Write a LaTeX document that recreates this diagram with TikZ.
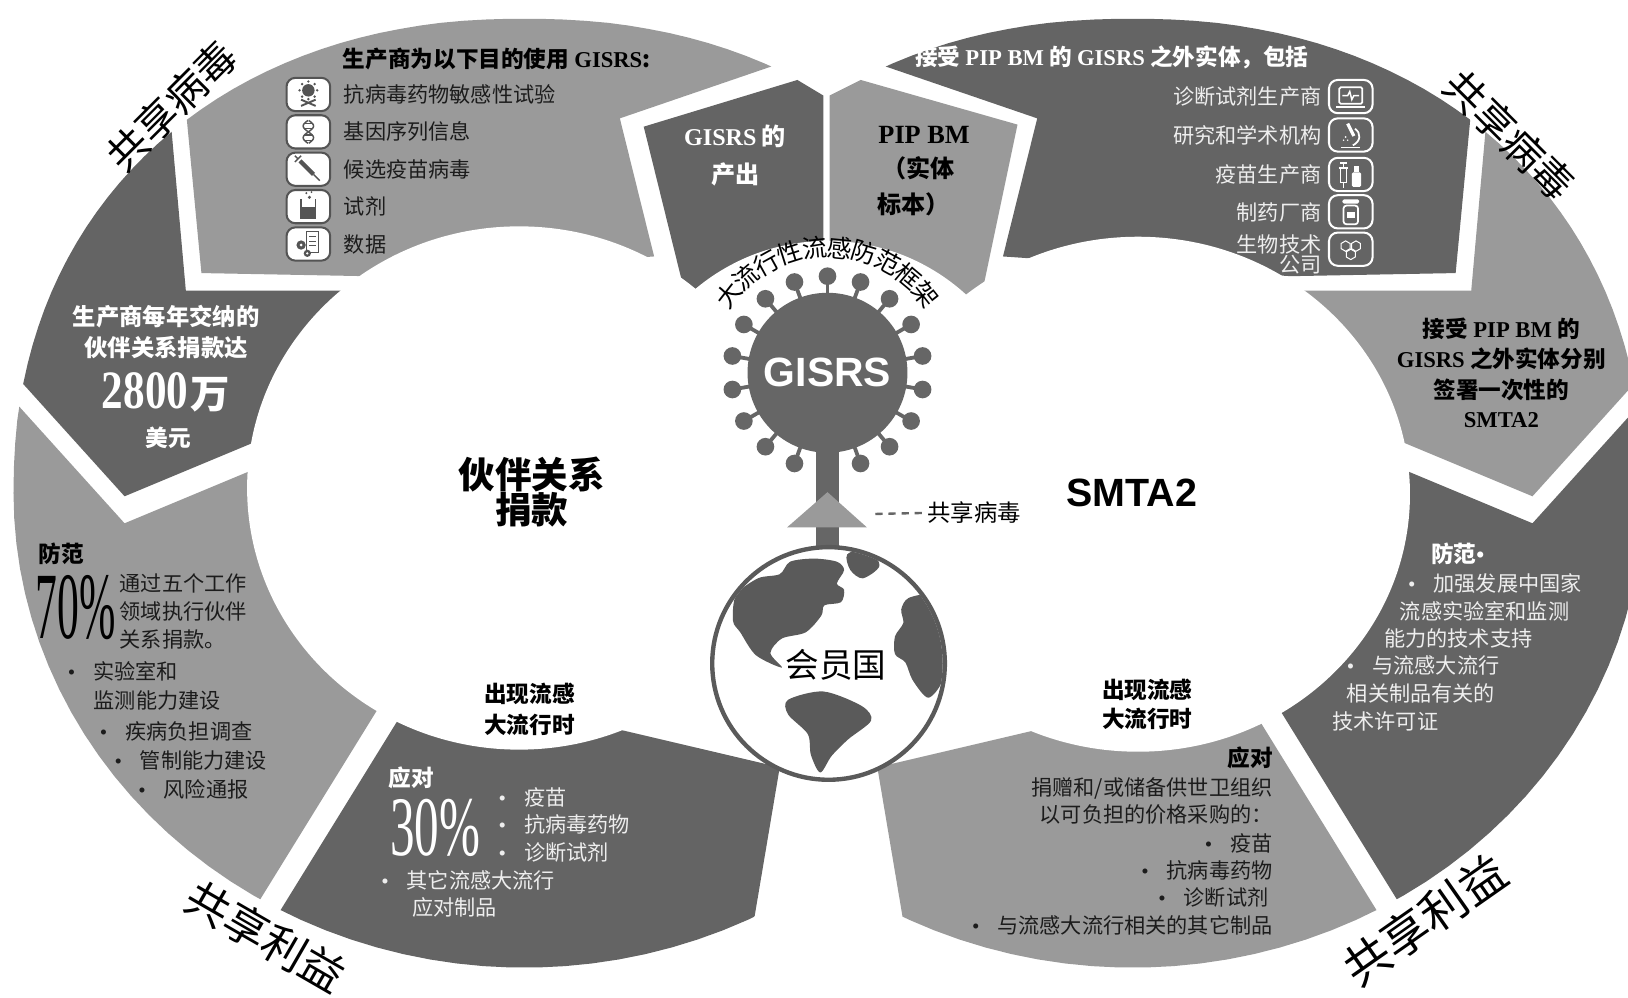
\documentclass[tikz,border=0pt]{standalone}
\usepackage{fontspec}
\usepackage{graphicx}
\setmainfont{Noto Sans CJK SC}
\newfontfamily\tms{Liberation Serif}
\newfontfamily\arl{Liberation Sans}
\usetikzlibrary{calc}

\definecolor{segLight}{HTML}{9A9A9A}
\definecolor{segDark}{HTML}{646464}
\definecolor{virusGrey}{HTML}{666666}
\definecolor{globeGrey}{HTML}{5A5A5A}
\definecolor{paleInk}{HTML}{EEEEEE}
\definecolor{darkInk}{HTML}{1C1C1C}
\definecolor{iconGrey}{HTML}{545454}

\newcommand\fs[1]{\fontsize{#1}{#1}\selectfont}
\newcommand\bul{\makebox[1.2em][l]{\tms •}}

\tikzset{
    plan/.style     = {x=0.025cm, y=-0.025cm},
    txt/.style      = {inner sep=0pt, font=\fs{14.5}, text height=12.8pt, text depth=1.7pt},
    head/.style     = {inner sep=0pt, font=\fs{15.5}\bfseries, text height=13.7pt, text depth=1.8pt},
    big/.style      = {inner sep=0pt, font=\fs{25}\bfseries, text height=22.1pt, text depth=2.9pt},
    motto/.style    = {inner sep=0pt, font=\fs{28}},
    onDark/.style   = {text=paleInk},
    onLight/.style  = {text=darkInk},
    iconbox/.style  = {draw=iconGrey, fill=white, line width=1.4pt,
                       rounded corners=6pt, minimum width=1.05cm,
                       minimum height=0.8cm, inner sep=0pt},
    darkicon/.style = {iconbox, draw=white, fill=segDark},
    virus/.style    = {circle, fill=virusGrey, text=white, inner sep=0pt,
                       minimum size=3.85cm, font=\arl\bfseries\fs{28}},
    globe/.style    = {circle, draw=globeGrey, line width=3pt, fill=white,
                       inner sep=0pt, minimum size=5.6cm}
}

% one lobe of the figure eight (left side); the right lobe is its mirror image,
% its rim is a little flatter over the top than underneath
\newcommand\lobe[4]{%
  \begin{scope}
    \clip plot[domain=0.5:179.5, samples=80]
            ({505+492*sign(cos(\x))*abs(cos(\x))^0.92}, {475-457*abs(sin(\x))^0.92})
        -- plot[domain=180:360, samples=60] ({505+492*cos(\x)}, {475-457*sin(\x)})
        -- cycle;
    \fill[#1] (169,0) -- (930,0) -- (597,114) -- (630,247) -- (353,266) -- (194,263) -- cycle;
    \fill[#2] (154,0) -- (179,280) -- (340,280) -- (300,403) -- (120,478) -- (-10,334) -- (-10,0) -- cycle;
    \fill[#3] (-10,360) -- (120,504) -- (300,429) -- (420,592) -- (168,1000) -- (-10,1000) -- cycle;
    \fill[#4] (420,634) -- (500,680) -- (751,739) -- (707,1000) -- (194,1000) -- cycle;
  \end{scope}}

\begin{document}
\begin{tikzpicture}[plan]
\useasboundingbox (0,0) rectangle (1568,961);

% ring segments
\lobe{segLight}{segDark}{segLight}{segDark}
\begin{scope}[shift={(1596,0)}, xscale=-1]
    \lobe{segDark}{segLight}{segDark}{segLight}
\end{scope}
\fill[segDark] (620,122) -- (768,77) -- (793,92) -- (793,330) -- (664,300) -- cycle;
\fill[segLight] (799,92) -- (829,77) -- (980,120) -- (940,310) -- (799,330) -- cycle;

% holes of the two lobes and the space round the virus
\fill[white] (500,470) ellipse [x radius=262, y radius=252];
\fill[white] (1096,476) ellipse [x radius=262, y radius=248];
\fill[white] (797,430) circle [radius=198];

% GISRS virus on its stem
\coordinate (virus-c) at (797,359);
\fill[virusGrey] (786,420) rectangle (808,545);
\fill[segLight] (758,508) -- (797,474) -- (835,508) -- cycle;
\foreach \a in {290,310,...,610} {
    \draw[virusGrey, line width=2.6pt] (virus-c) ++(-\a:72) -- ++(-\a:20);
    \fill[virusGrey] (virus-c) ++(-\a:93) circle [radius=8.5];
}
\node[virus] (virus) at (virus-c) {GISRS};
\foreach \ch [count=\i from 0] in {大,流,行,性,流,感,防,范,框,架} {
    \pgfmathsetmacro\ang{142-11.5*\i}
    \node[inner sep=0pt, font=\fs{17}, rotate=\ang-90] (frame-\i)
        at ($(virus-c)+(-\ang:121)$) {\ch};
}

% member states globe
\node[globe] (globe) at (798,639) {};
\begin{scope}
    \clip (globe.center) circle [radius=110];
    \fill[globeGrey] plot[smooth cycle, tension=0.5] coordinates {(706,598) (709,573)
        (730,557) (751,553) (761,541) (784,538) (806,541) (813,549) (806,562)
        (813,568) (810,580) (794,583) (791,593) (776,609) (753,615) (742,629)
        (753,643) (728,631) (713,609)};
    \fill[globeGrey] plot[smooth cycle, tension=0.5] coordinates {(816,534) (836,528)
        (847,545) (831,557) (819,549)};
    \fill[globeGrey] plot[smooth cycle, tension=0.5] coordinates {(875,576) (897,573)
        (907,592) (911,623) (908,655) (894,672) (879,655) (872,638) (862,630)
        (862,613) (870,600) (868,587)};
    \fill[globeGrey] plot[smooth cycle, tension=0.5] coordinates {(759,674) (793,666)
        (830,680) (839,694) (817,712) (801,728) (790,744) (781,727) (778,707)
        (759,688)};
\end{scope}
\node[inner sep=0pt, font=\fs{23}] (members) at (805,640) {会员国};
\coordinate (share-start) at (843,495);
\node[inner sep=0pt, font=\fs{16}, anchor=west] (share-virus) at (893,494) {共享病毒};
\draw[virusGrey, line width=1.6pt, dash pattern=on 5pt off 4pt] (share-start) -- (share-virus.west);

% manufacturers' use of GISRS
\node[head, text=black, anchor=west] (use-head) at (330,57) {生产商为以下目的使用 {\tms GISRS}:};
\foreach \i/\y/\what in {1/91/抗病毒药物敏感性试验, 2/127/基因序列信息,
        3/163/候选疫苗病毒, 4/199/试剂, 5/235/数据} {
    \node[iconbox] (use-icon-\i) at (297,\y) {};
    \node[txt, onLight, anchor=west] (use-\i) at (331,\y) {\what};
}
\begin{scope}[shift={(use-icon-1.center)}, iconGrey]
    \fill (0,-4) circle [radius=6];
    \foreach \a in {0,45,...,315} \fill (0,-4) ++(\a:8.5) circle [radius=1.3];
    \draw[line width=1.3pt] (-7,5) -- (7,11) (-7,11) -- (7,5);
\end{scope}
\begin{scope}[shift={(use-icon-2.center)}, iconGrey]
    \draw[line width=1pt] plot[domain=-11:11, samples=25, smooth] ({5*sin(\x*16)},\x);
    \draw[line width=1pt] plot[domain=-11:11, samples=25, smooth] ({-5*sin(\x*16)},\x);
    \foreach \y in {-8,-3,3,8} \draw[line width=0.8pt] ({-5*sin(\y*16)},\y) -- ({5*sin(\y*16)},\y);
\end{scope}
\begin{scope}[shift={(use-icon-3.center)}, iconGrey]
    \draw[line width=3pt] (-8,-8) -- (5,5);
    \draw[line width=1pt] (5,5) -- (11,11) (-13,-7) -- (-7,-13) (-13,-13) -- (-10,-10);
\end{scope}
\begin{scope}[shift={(use-icon-4.center)}, iconGrey]
    \draw[line width=1pt] (-7,-7) -- (-7,11) -- (7,11) -- (7,-7);
    \fill (-7,0) rectangle (7,11);
    \fill (1,-9) circle [radius=1.6] (-2,-13) circle [radius=1.1] (3,-14) circle [radius=0.9];
\end{scope}
\begin{scope}[shift={(use-icon-5.center)}, iconGrey]
    \draw[line width=1pt] (-2,-12) rectangle (10,8);
    \foreach \y in {-7,-3,1} \draw (1,\y) -- (7,\y);
    \fill (-7,1) circle [radius=4.5] (-1,9) circle [radius=3.5];
    \fill[white] (-7,1) circle [radius=1.5] (-1,9) circle [radius=1.2];
\end{scope}

% partnership contribution
\node[head, text=white, font=\fs{16}\bfseries] (fee-1) at (160,305) {生产商每年交纳的};
\node[head, text=white, font=\fs{16}\bfseries] (fee-2) at (160,335) {伙伴关系捐款达};
\node[inner sep=0pt, text=white] (fee-sum) at (160,378)
    {\scalebox{0.8}[1]{\fs{37}\tms\bfseries 2800}\,{\fs{27}\bfseries 万}};
\node[head, text=white] (fee-unit) at (162,422) {美元};

% preparedness share
\node[head, text=black, anchor=west] (prep-l-head) at (37,533) {防范};
\node[inner sep=0pt, text=black] (prep-l-pct) at (73,585) {\scalebox{0.46}[1]{\fs{65}\tms 70\%}};
\foreach \x/\y/\words [count=\i] in {115/562/通过五个工作, 115/589/领域执行伙伴,
        115/616/关系捐款。, 65/647/\bul 实验室和, 90/675/监测能力建设,
        96/704/\bul 疾病负担调查, 110/732/\bul 管制能力建设, 133/760/\bul 风险通报}
    \node[txt, onLight, anchor=west] (prep-l-\i) at (\x,\y) {\words};

% response share
\node[head, text=white, anchor=west] (resp-l-head) at (374,749) {应对};
\node[inner sep=0pt, text=white] (resp-l-pct) at (419,797) {\scalebox{0.58}[1]{\fs{58}\tms 30\%}};
\foreach \x/\y/\words [count=\i] in {480/768/\bul 疫苗, 480/794/\bul 抗病毒药物,
        480/821/\bul 诊断试剂, 367/848/\bul 其它流感大流行, 397/874/应对制品}
    \node[txt, onDark, anchor=west] (resp-l-\i) at (\x,\y) {\words};

\node[big] (partner-1) at (512,457) {伙伴关系};
\node[big] (partner-2) at (512,491) {捐款};
\node[head] (onset-l-1) at (510,668) {出现流感};
\node[head] (onset-l-2) at (510,698) {大流行时};

% GISRS outputs and PIP BM
\node[head, text=white, font=\fs{16.5}\bfseries] (output-1) at (708,132) {{\tms GISRS} 的};
\node[head, text=white, font=\fs{16.5}\bfseries] (output-2) at (708,168) {产出};
\node[inner sep=0pt, text=black, font=\fs{18}\bfseries\tms] (pipbm-1) at (890,130) {PIP BM};
\node[head, text=black, font=\fs{16.5}\bfseries] (pipbm-2) at (885,163) {（实体};
\node[head, text=black, font=\fs{16.5}\bfseries] (pipbm-3) at (880,197) {标本）};

% entities outside GISRS
\node[head, text=white, anchor=west] (outside-head) at (881,55)
    {接受 {\tms PIP BM} 的 {\tms GISRS} 之外实体，包括};
\foreach \i/\y/\what in {1/93/诊断试剂生产商, 2/130/研究和学术机构,
        3/168/疫苗生产商, 4/205/制药厂商, 5/235/生物技术}
    \node[txt, onDark, anchor=east] (outside-\i) at (1273,\y) {\what};
\node[txt, onDark, anchor=east] (outside-6) at (1273,255) {公司};
\foreach \i/\y in {1/93, 2/130, 3/168, 4/204, 5/240}
    \node[darkicon] (outside-icon-\i) at (1301,\y) {};
\begin{scope}[shift={(outside-icon-1.center)}, white]
    \draw[line width=1.2pt, rounded corners=1pt] (-11,-9) rectangle (11,7);
    \draw[line width=1.2pt] (-14,10) -- (14,10);
    \draw[line width=1pt] (-8,-1) -- (-3,-1) -- (-1,-5) -- (1,3) -- (3,-1) -- (8,-1);
\end{scope}
\begin{scope}[shift={(outside-icon-2.center)}, white]
    \draw[line width=2.2pt] (-3,-11) -- (3,1);
    \draw[line width=1.2pt] (-9,12) -- (9,12);
    \draw[line width=1.2pt] (4,-6) .. controls (10,-2) and (10,6) .. (2,10);
    \fill (-5,2) circle [radius=1] (-7,5) circle [radius=0.8] (-3,5) circle [radius=0.8];
\end{scope}
\begin{scope}[shift={(outside-icon-3.center)}, white]
    \draw[line width=1pt] (-10,-6) rectangle (-4,8) (-7,8) -- (-7,13)
        (-11,-6) -- (-3,-6) (-7,-6) -- (-7,-11) (-10,-11) -- (-4,-11);
    \fill[rounded corners=1pt] (1,-2) rectangle (10,12);
    \fill (3,-8) rectangle (8,-2);
\end{scope}
\begin{scope}[shift={(outside-icon-4.center)}, white]
    \fill[rounded corners=1pt] (-8,-12) rectangle (8,-8);
    \draw[line width=1.2pt, rounded corners=2pt] (-7,-6) rectangle (7,12);
    \fill (-4,0) rectangle (4,6);
\end{scope}
\begin{scope}[shift={(outside-icon-5.center)}, white]
    \foreach \cx/\cy in {-5/-3, 5/-3, 0/5}
        \draw[line width=0.7pt] (\cx,\cy) +(30:5) -- +(90:5) -- +(150:5)
            -- +(210:5) -- +(270:5) -- +(330:5) -- cycle;
\end{scope}

% one-off SMTA2
\foreach \i/\y/\words in {1/317/接受 {\tms PIP BM} 的, 2/346/{\tms GISRS} 之外实体分别,
        3/375/签署一次性的, 4/403/{\tms SMTA2}}
    \node[head, text=black] (smta-\i) at (1446,\y) {\words};

% preparedness benefits
\node[head, text=white, anchor=west] (prep-r-head) at (1378,533) {防范{\tms •}};
\foreach \x/\y/\words [count=\i] in {1356/562/\bul 加强发展中国家, 1348/589/流感实验室和监测,
        1333/615/能力的技术支持, 1297/641/\bul 与流感大流行, 1297/668/相关制品有关的,
        1283/695/技术许可证}
    \node[txt, onDark, anchor=west] (prep-r-\i) at (\x,\y) {\words};

% response benefits
\node[head, text=black, anchor=east] (resp-r-head) at (1226,730) {应对};
\foreach \x/\y/\words [count=\i] in {1226/758/{捐赠和/或储备供世卫组织},
        1226/784/以可负担的价格采购的：, 1226/812/\bul 疫苗, 1226/838/\bul 抗病毒药物,
        1222/864/\bul 诊断试剂, 1226/891/\bul 与流感大流行相关的其它制品}
    \node[txt, onLight, anchor=east] (resp-r-\i) at (\x,\y) {\words};

\node[inner sep=0pt, font=\arl\bfseries\fs{27}] (smta-label) at (1090,475) {SMTA2};
\node[head] (onset-r-1) at (1105,664) {出现流感};
\node[head] (onset-r-2) at (1105,692) {大流行时};

% sharing labels round the rim
\node[motto, rotate=45] (share-l) at (165,102) {共享病毒};
\node[motto, rotate=-45] (share-r) at (1454,130) {共享病毒};
\node[motto, font=\fs{30}, rotate=-30] (benefit-l) at (256,902) {共享利益};
\node[motto, font=\fs{32}, rotate=35] (benefit-r) at (1372,886) {共享利益};

\end{tikzpicture}
\end{document}
